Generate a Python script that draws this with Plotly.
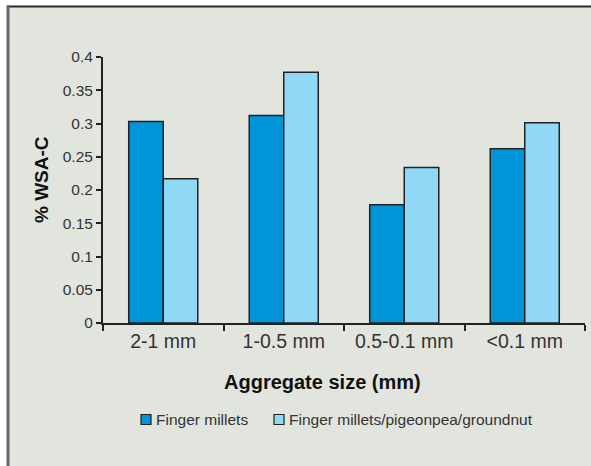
import plotly.graph_objects as go

# Data
categories = ["2-1 mm", "1-0.5 mm", "0.5-0.1 mm", "<0.1 mm"]
series_names = ["Finger millets", "Finger millets/pigeonpea/groundnut"]
finger_millets = [0.303, 0.312, 0.178, 0.262]
finger_millets_mixed = [0.217, 0.377, 0.234, 0.301]
y_ticks = [0, 0.05, 0.1, 0.15, 0.2, 0.25, 0.3, 0.35, 0.4]
y_tick_labels = ["0", "0.05", "0.1", "0.15", "0.2", "0.25", "0.3", "0.35", "0.4"]
x_title = "Aggregate size (mm)"
y_title = "% WSA-C"

# Styling
DARK_BLUE = "#0095d9"
LIGHT_BLUE = "#8fd8f6"
OUTLINE = "#222222"
BG = "#e2e4de"
TEXT = "#333333"
FONT = "Liberation Sans, Arial, sans-serif"

W, H = 591, 466
ML, MR, MT, MB = 103, 6, 57, 143
PW, PH = W - ML - MR, H - MT - MB


def px_x(p):
    return (p - ML) / PW


def px_y(p):
    return (H - MB - p) / PH


fig = go.Figure()
for name, vals, col in [(series_names[0], finger_millets, DARK_BLUE),
                        (series_names[1], finger_millets_mixed, LIGHT_BLUE)]:
    fig.add_trace(go.Bar(
        x=categories, y=vals, name=name,
        marker=dict(color=col, line=dict(color=OUTLINE, width=1.5)),
        showlegend=False,
    ))

shapes = [
    # panel background
    dict(type="rect", xref="paper", yref="paper", layer="below",
         x0=px_x(7), x1=px_x(W + 5), y0=px_y(H + 5), y1=px_y(6),
         fillcolor=BG, line=dict(width=0)),
    # top frame line
    dict(type="line", xref="paper", yref="paper",
         x0=px_x(7), x1=px_x(W + 5), y0=px_y(6.5), y1=px_y(6.5),
         line=dict(color="#2a2a2a", width=2)),
    # left frame line
    dict(type="line", xref="paper", yref="paper",
         x0=px_x(8), x1=px_x(8), y0=px_y(5.5), y1=px_y(H + 5),
         line=dict(color="#666666", width=3)),
]

annotations = [
    dict(xref="paper", yref="paper", x=px_x(322.5), y=px_y(382),
         text="<b>" + x_title + "</b>", showarrow=False,
         xanchor="center", yanchor="middle",
         font=dict(family=FONT, size=20, color="#111111")),
    dict(xref="paper", yref="paper", x=px_x(41.5), y=px_y(179.5),
         text="<b>" + y_title + "</b>", showarrow=False, textangle=-90,
         xanchor="center", yanchor="middle",
         font=dict(family=FONT, size=19, color="#111111")),
]

# legend drawn as swatches + labels
legend_items = [(141, 154, DARK_BLUE, series_names[0]),
                (274, 287, LIGHT_BLUE, series_names[1])]
for box_x, text_x, col, label in legend_items:
    shapes.append(dict(type="rect", xref="paper", yref="paper",
                       x0=px_x(box_x), x1=px_x(box_x + 10),
                       y0=px_y(424.5), y1=px_y(414.5),
                       fillcolor=col, line=dict(color=OUTLINE, width=1.2)))
    annotations.append(dict(xref="paper", yref="paper", x=px_x(text_x), y=px_y(419.5),
                            text=label, showarrow=False, xanchor="left", yanchor="middle",
                            font=dict(family=FONT, size=15.5, color=TEXT)))

fig.update_layout(
    width=W, height=H,
    margin=dict(l=ML, r=MR, t=MT, b=MB, pad=0),
    paper_bgcolor="white",
    plot_bgcolor=BG,
    barmode="group",
    bargap=0.427,
    bargroupgap=0,
    font=dict(family=FONT, color=TEXT),
    shapes=shapes,
    annotations=annotations,
    xaxis=dict(
        showgrid=False, zeroline=False,
        showline=True, linecolor=OUTLINE, linewidth=2,
        ticks="outside", tickson="boundaries", ticklen=6, tickwidth=1.5, tickcolor=OUTLINE,
        tickfont=dict(size=19.5, color=TEXT),
    ),
    yaxis=dict(
        range=[0, 0.4],
        tickvals=y_ticks, ticktext=y_tick_labels,
        showgrid=False, zeroline=False,
        showline=True, linecolor=OUTLINE, linewidth=2,
        ticks="outside", ticklen=5, tickwidth=1.5, tickcolor=OUTLINE,
        tickfont=dict(size=15.5, color=TEXT),
    ),
)

fig.write_html("out.html")
